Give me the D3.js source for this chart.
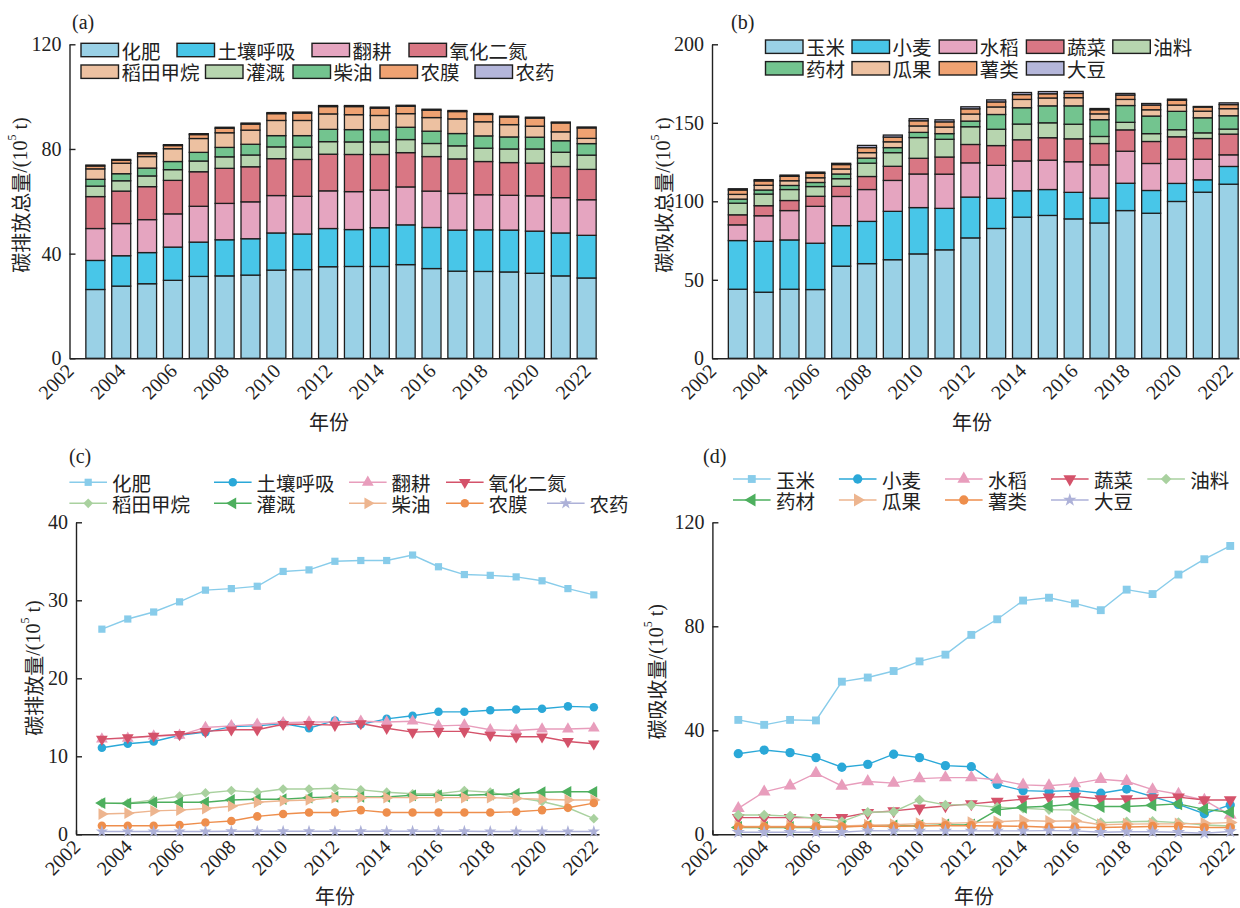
<!DOCTYPE html>
<html><head><meta charset="utf-8">
<script src="https://cdn.jsdelivr.net/npm/d3@7/dist/d3.min.js"></script>
<style>
body{margin:0;background:#fff;}
text{font-family:"Liberation Serif","Times New Roman","Noto Sans CJK SC",serif;fill:#222;}
.cjk{font-family:"Noto Sans CJK SC","Liberation Serif",sans-serif;}
</style></head><body>
<script>
// ---------- data ----------
const years = [2003,2004,2005,2006,2007,2008,2009,2010,2011,2012,2013,2014,2015,2016,2017,2018,2019,2020,2021,2022];
const evenYears = [2002,2004,2006,2008,2010,2012,2014,2016,2018,2020,2022];

// emissions (10^5 t)
const emissionNames = ['化肥','土壤呼吸','翻耕','氧化二氮','稻田甲烷','灌溉','柴油','农膜','农药'];
const fertilizer   = [26.3,27.6,28.5,29.8,31.3,31.5,31.8,33.7,33.9,35.0,35.1,35.1,35.8,34.3,33.3,33.2,33.0,32.5,31.5,30.7];
const soilResp     = [11.1,11.6,11.9,12.7,13.1,13.8,13.9,14.2,13.6,14.6,14.1,14.8,15.2,15.7,15.7,15.9,16.0,16.1,16.4,16.3];
const tillage      = [12.2,12.3,12.6,12.7,13.7,13.9,14.1,14.3,14.4,14.4,14.5,14.4,14.5,13.9,14.0,13.4,13.3,13.5,13.5,13.6];
const nitrousOxide = [12.2,12.4,12.6,12.8,13.2,13.4,13.4,14.1,14.1,14.0,14.2,13.6,13.1,13.2,13.2,12.7,12.5,12.5,11.9,11.6];
const paddyCH4     = [4.0,4.0,4.4,4.9,5.3,5.6,5.4,5.8,5.8,5.9,5.7,5.4,5.2,5.2,5.6,5.4,4.7,4.2,3.4,2.0];
const irrigation   = [4.0,3.95,4.1,4.1,4.1,4.4,4.5,4.5,4.7,4.8,4.8,4.8,5.0,5.0,5.0,5.1,5.2,5.4,5.45,5.45];
const diesel       = [2.6,2.7,3.0,3.1,3.3,3.6,4.1,4.3,4.4,4.7,4.7,4.7,4.7,4.7,4.7,4.7,4.6,4.5,4.4,4.4];
const plasticFilm  = [1.1,1.1,1.1,1.2,1.5,1.7,2.3,2.6,2.8,2.8,3.1,2.8,2.8,2.8,2.8,2.8,2.9,3.1,3.4,4.0];
const pesticide    = [0.35,0.35,0.35,0.35,0.35,0.4,0.4,0.4,0.4,0.4,0.4,0.4,0.4,0.4,0.4,0.35,0.35,0.35,0.35,0.35];
const emissionSeries = [fertilizer,soilResp,tillage,nitrousOxide,paddyCH4,irrigation,diesel,plasticFilm,pesticide];
const emissionStackOrder = ['化肥','土壤呼吸','翻耕','氧化二氮','灌溉','柴油','稻田甲烷','农膜','农药'];

// absorption (10^5 t)
const cropNames = ['玉米','小麦','水稻','蔬菜','油料','药材','瓜果','薯类','大豆'];
const maize      = [44.0,42.1,44.0,43.8,58.7,60.3,62.8,66.5,69.1,76.7,82.7,89.9,91.0,88.8,86.2,94.1,92.4,99.9,105.8,110.9];
const wheat      = [31.0,32.4,31.4,29.5,25.8,26.9,30.8,29.5,26.4,26.0,19.2,16.8,16.5,16.9,15.8,17.4,14.5,11.5,7.9,11.3];
const rice       = [10.0,16.3,18.7,23.5,18.6,20.3,19.7,21.4,21.8,21.8,21.0,19.0,18.7,19.5,21.2,20.4,17.2,15.4,13.1,7.4];
const vegetables = [6.4,6.4,6.4,6.4,6.4,8.3,9.0,10.0,10.9,11.7,12.6,13.5,14.3,14.6,13.6,13.6,14.0,14.3,13.2,13.2];
const oilCrops   = [7.4,7.4,7.0,6.2,4.9,8.5,8.7,13.2,11.3,11.3,10.4,10.0,9.5,9.3,4.5,4.8,5.0,4.5,3.6,3.2];
const medicinal  = [2.6,2.6,2.6,2.6,3.0,3.2,3.2,3.3,3.6,3.6,9.4,10.4,10.8,11.7,10.7,10.7,11.2,11.7,9.6,8.5];
const melonFruit = [3.0,3.0,3.0,3.0,3.2,3.5,3.7,4.1,4.2,4.5,4.8,5.3,5.0,5.2,3.7,3.9,4.0,4.0,4.2,4.5];
const tubers     = [2.8,2.8,2.8,2.8,2.8,3.2,3.0,3.3,3.3,3.3,3.2,3.1,2.7,2.7,2.6,2.8,3.0,3.0,2.6,2.6];
const soybean    = [0.8,0.8,0.8,0.8,0.8,1.4,1.3,1.3,1.3,1.3,1.3,1.3,1.4,1.3,0.8,1.0,1.0,0.8,0.4,1.1];
const cropSeries = [maize,wheat,rice,vegetables,oilCrops,medicinal,melonFruit,tubers,soybean];

const ticksA = [0,40,80,120];
const ticksB = [0,50,100,150,200];
const ticksC = [0,10,20,30,40];
const ticksD = [0,40,80,120];

// ---------- styles ----------
const barColorsA = {'化肥':'#9AD1E6','土壤呼吸':'#48C6E8','翻耕':'#E5A5C0','氧化二氮':'#D97784','稻田甲烷':'#EDC1A1','灌溉':'#B7D5AF','柴油':'#73C48F','农膜':'#EFA272','农药':'#B4B6DA'};
const barColorsB = {'玉米':'#9AD1E6','小麦':'#48C6E8','水稻':'#E5A5C0','蔬菜':'#D97784','油料':'#B7D5AF','药材':'#73C48F','瓜果':'#EDC1A1','薯类':'#EFA272','大豆':'#B4B6DA'};
const lineColors = ['#88CCEA','#2AA8D8','#E89DBC','#D4526A','#A9D19F','#4DAF5E','#EDB58F','#EE8E4C','#ADB1D8'];
const markerTypes = ['square','circle','up','down','diamond','left','right','circle','star'];

const svg = d3.select('body').append('svg').attr('width',1240).attr('height',908);

function markerPath(type, size){
  const s = size;
  switch(type){
    case 'square': return {d:d3.symbol(d3.symbolSquare, s*1.0)(), r:0};
    case 'circle': return {d:d3.symbol(d3.symbolCircle, s*1.1)(), r:0};
    case 'up': return {d:d3.symbol(d3.symbolTriangle, s*1.15)(), r:0};
    case 'down': return {d:d3.symbol(d3.symbolTriangle, s*1.15)(), r:180};
    case 'left': return {d:d3.symbol(d3.symbolTriangle, s*1.15)(), r:-90};
    case 'right': return {d:d3.symbol(d3.symbolTriangle, s*1.15)(), r:90};
    case 'diamond': return {d:d3.symbol(d3.symbolSquare, s*0.9)(), r:45};
    case 'star': return {d:d3.symbol(d3.symbolStar, s*0.9)(), r:0};
  }
}

function yTitle(g, x, y, label){
  const t = g.append('text').attr('transform',`translate(${x},${y}) rotate(-90)`)
    .attr('text-anchor','middle').attr('dominant-baseline','central').style('font-size','20px');
  t.append('tspan').attr('class','cjk').text(label);
  t.append('tspan').text('/(10');
  t.append('tspan').attr('dy',-8).style('font-size','12px').text('5');
  t.append('tspan').attr('dy',8).text(' t)');
}
function xTitle(g, x, y){
  g.append('text').attr('class','cjk').attr('x',x).attr('y',y).attr('text-anchor','middle')
    .attr('dominant-baseline','central').style('font-size','20px').text('年份');
}
function panelLabel(x,y,t){
  svg.append('text').attr('x',x).attr('y',y).style('font-size','20px').text(t);
}

function drawYAxis(g, y, x0, ticks){
  const ax = g.append('g').attr('transform',`translate(${x0},0)`)
    .call(d3.axisLeft(y).tickValues(ticks).tickSizeInner(-6).tickSizeOuter(0).tickPadding(8));
  ax.selectAll('path,line').attr('stroke','#222').attr('stroke-width',1.4);
  ax.selectAll('text').style('font-size','20px').style('font-family','"Liberation Serif",serif').attr('fill','#222');
}
function drawXAxis(g, x, y0, tickVals, innerTick){
  const ax = g.append('g').attr('transform',`translate(0,${y0})`)
    .call(d3.axisBottom(x).tickValues(tickVals).tickSizeInner(innerTick ? -4 : 0).tickSizeOuter(0)
      .tickFormat(d => evenYears.includes(d) ? String(d) : ''));
  ax.selectAll('path,line').attr('stroke','#222').attr('stroke-width',1.4);
  ax.selectAll('text').attr('x',0).attr('y',0).attr('dy',0).attr('text-anchor','end')
    .attr('transform','translate(5,14) rotate(-45)')
    .style('font-size','20px').style('font-family','"Liberation Serif",serif').attr('fill','#222');
}

// ---------- bar panel ----------
function barPanel(opt){
  const g = svg.append('g');
  const x = d3.scaleLinear().domain([2002, 2022.4]).range(opt.xr);
  const y = d3.scaleLinear().domain(opt.yd).range([358.3, 44.3]);
  const rows = years.map((yr,i)=>{ const r={year:yr}; opt.names.forEach((n,k)=>r[n]=opt.series[k][i]); return r; });
  const stacked = d3.stack().keys(opt.order)(rows);
  const bw = 19;
  stacked.forEach(layer=>{
    g.append('g').selectAll('rect').data(layer).join('rect')
      .attr('x', d=>x(d.data.year)-bw/2).attr('width',bw)
      .attr('y', d=>y(d[1])).attr('height', d=>y(d[0])-y(d[1]))
      .attr('fill', opt.colors[layer.key]).attr('stroke','#1e1e1e').attr('stroke-width',1.3);
  });
  drawYAxis(g, y, opt.xr[0], opt.ticks);
  drawXAxis(g, x, 358.3, evenYears, false);
  // legend
  opt.legend.forEach((row,ri)=>{
    row.forEach(([lx,name])=>{
      const cy = opt.legendY[ri];
      g.append('rect').attr('x',lx).attr('y',cy-6.7).attr('width',37.5).attr('height',13.4)
        .attr('fill',opt.colors[name]).attr('stroke','#1e1e1e').attr('stroke-width',1.4);
      g.append('text').attr('class','cjk').attr('x',lx+40.5).attr('y',cy).attr('dominant-baseline','central')
        .style('font-size','19.5px').text(name);
    });
  });
}

// ---------- line panel ----------
function linePanel(opt){
  const g = svg.append('g');
  const x = d3.scaleLinear().domain([2002, opt.xmax]).range(opt.xr);
  const y = d3.scaleLinear().domain(opt.yd).range([834.3, 522.3]);
  drawYAxis(g, y, opt.xr[0], opt.ticks);
  drawXAxis(g, x, 834.3, [2002].concat(years), true);
  const line = d3.line().x((d,i)=>x(years[i])).y(d=>y(d));
  opt.series.forEach((s,k)=>{
    const sg = g.append('g');
    sg.append('path').datum(s).attr('d',line).attr('fill','none').attr('stroke',lineColors[k]).attr('stroke-width',1.4);
    const m = markerPath(markerTypes[k], opt.msize);
    sg.selectAll('path.m').data(s).join('path').attr('class','m').attr('d',m.d)
      .attr('transform',(d,i)=>`translate(${x(years[i])},${y(d)}) rotate(${m.r})`)
      .attr('fill',lineColors[k]);
  });
  // legend
  opt.legend.forEach((row,ri)=>{
    row.forEach(([lx,k])=>{
      const cy = opt.legendY[ri];
      g.append('line').attr('x1',lx).attr('x2',lx+37.6).attr('y1',cy).attr('y2',cy)
        .attr('stroke',lineColors[k]).attr('stroke-width',1.4);
      const m = markerPath(markerTypes[k], opt.msize);
      g.append('path').attr('d',m.d).attr('transform',`translate(${lx+18.8},${cy}) rotate(${m.r})`).attr('fill',lineColors[k]);
      g.append('text').attr('class','cjk').attr('x',lx+opt.textOff).attr('y',cy).attr('dominant-baseline','central')
        .style('font-size','19.5px').text(opt.names[k]);
    });
  });
}

// (a)
barPanel({xr:[69.5,597], yd:[0,120], ticks:ticksA, names:emissionNames, series:emissionSeries,
  order:emissionStackOrder, colors:barColorsA, legendY:[50,71.7],
  legend:[[[81,'化肥'],[177,'土壤呼吸'],[312,'翻耕'],[409,'氧化二氮']],
          [[81,'稻田甲烷'],[205.5,'灌溉'],[293,'柴油'],[380,'农膜'],[475,'农药']]]});
// (b)
barPanel({xr:[712,1239], yd:[0,200], ticks:ticksB, names:cropNames, series:cropSeries,
  order:cropNames, colors:barColorsB, legendY:[46.7,68.3],
  legend:[[[765.5,'玉米'],[852,'小麦'],[939.2,'水稻'],[1026.4,'蔬菜'],[1112.8,'油料']],
          [[765.5,'药材'],[852,'瓜果'],[939.2,'薯类'],[1026.4,'大豆']]]});
// (c)
linePanel({xr:[76,599], xmax:2022.2, yd:[0,40], ticks:ticksC, series:emissionSeries, names:emissionNames,
  msize:52, legendY:[482.3,503.3], textOff:42.5,
  legend:[[[69.4,0],[214,1],[349,2],[446,3]],[[69.4,4],[214,5],[349,6],[446,7],[547,8]]]});
// (d)
linePanel({xr:[712.4,1238], xmax:2022.3, yd:[0,120], ticks:ticksD, series:cropSeries, names:cropNames,
  msize:62, legendY:[479,500], textOff:43,
  legend:[[[733,0],[838.9,1],[945,2],[1051,3],[1147.3,4]],[[733,5],[838.9,6],[945,7],[1051,8]]]});

// titles
panelLabel(72,28.5,'(a)'); panelLabel(731,28.5,'(b)'); panelLabel(69,463,'(c)'); panelLabel(703,463,'(d)');
yTitle(svg, 19.7, 195, '碳排放总量'); yTitle(svg, 662.6, 195, '碳吸收总量');
yTitle(svg, 32.7, 668, '碳排放量'); yTitle(svg, 655.7, 671.7, '碳吸收量');
xTitle(svg, 329, 421.7); xTitle(svg, 972, 421.7); xTitle(svg, 335, 895); xTitle(svg, 974, 895);
</script></body></html>
